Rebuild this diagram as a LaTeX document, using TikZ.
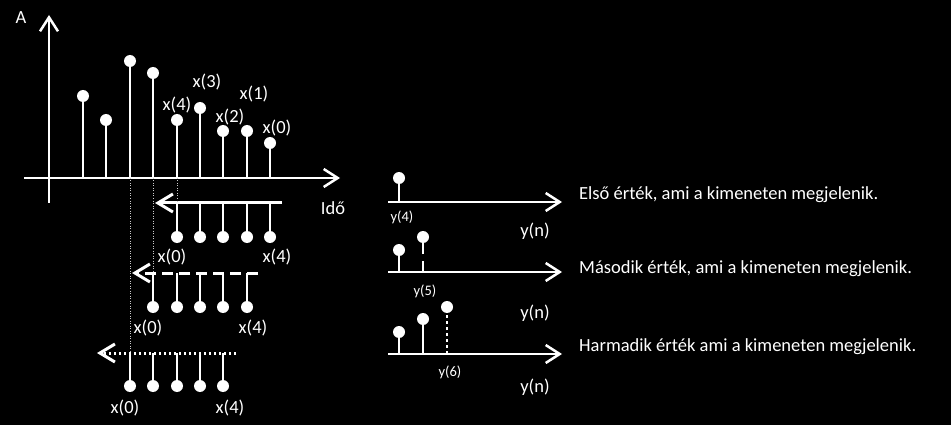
\documentclass[tikz,border=0pt]{standalone}
\usepackage{fontspec}
\setmainfont{Carlito}
\usetikzlibrary{arrows.meta}
\tikzset{
	dot/.style={circle,fill=white,inner sep=0pt,minimum size=12pt},
	lbl/.style={text=white,inner sep=0pt,font=\fontsize{18.5}{20}\selectfont},
	slbl/.style={text=white,inner sep=0pt,font=\fontsize{14.5}{16}\selectfont},
	axis/.style={draw=white,line width=2.5pt,-{Straight Barb[length=14pt,width=18pt]}},
	shiftline/.style={draw=white,line width=3pt,-{Straight Barb[length=15pt,width=18pt]}},
	stem/.style={draw=white,line width=2.5pt},
	guide/.style={draw=white!80!black,line width=0.8pt,dash pattern=on 1pt off 1.5pt},
}
\begin{document}
\begin{tikzpicture}[x=1pt,y=-1pt]
	\fill[black] (0,0) rectangle (951,425);
	\useasboundingbox (0,0) rectangle (951,425);
	%
	% input signal
	\coordinate (ya) at (49,203);
	\coordinate (yb) at (49,15);
	\coordinate (xa) at (24,178);
	\coordinate (xb) at (340,178);
	\draw[axis] (ya) -- (yb);
	\draw[axis] (xa) -- (xb);
	\node[lbl] (A)   at (21,18)  {A};
	\node[lbl] (ido) at (333,208) {Idő};
	\def\input {1/83/96, 2/106/120, 3/130/61, 4/153/73, 5/177/120, 6/200/108, 7/223/131, 8/247/131, 9/270/143}  % stems
	\foreach \n/\x/\y in \input
	{	\coordinate (b\n) at (\x,178);
		\node[dot] (s\n) at (\x,\y) {};
		\draw[stem] (b\n) -- (s\n);
	}
	\node[lbl] (m4) at (177,105) {x(4)};
	\node[lbl] (m3) at (207,82)  {x(3)};
	\node[lbl] (m2) at (230,117) {x(2)};
	\node[lbl] (m1) at (254,94)  {x(1)};
	\node[lbl] (m0) at (277,128) {x(0)};
	%
	% shifted copies
	\coordinate (la1) at (282,203);
	\coordinate (la2) at (155,203);
	\draw[shiftline] (la1) -- (la2);
	\foreach \n/\x in {0/177, 1/200, 2/223, 3/247, 4/270}
	{	\coordinate (ea\n) at (\x,203);
		\node[dot] (da\n) at (\x,237) {};
		\draw[stem] (ea\n) -- (da\n);
	}
	\node[lbl] (ta0) at (172,257) {x(0)};
	\node[lbl] (ta4) at (277,257) {x(4)};
	%
	\coordinate (lb1) at (258,273);
	\coordinate (lb2) at (132,273);
	\draw[shiftline,dash pattern=on 11pt off 6pt] (lb1) -- (lb2);
	\foreach \n/\x in {0/153, 1/177, 2/200, 3/223, 4/247}
	{	\coordinate (eb\n) at (\x,273);
		\node[dot] (db\n) at (\x,307) {};
		\draw[stem] (eb\n) -- (db\n);
	}
	\node[lbl] (tb0) at (148,328) {x(0)};
	\node[lbl] (tb4) at (253,328) {x(4)};
	%
	\coordinate (lc1) at (236,353);
	\coordinate (lc2) at (97,353);
	\draw[shiftline,dash pattern=on 2.5pt off 2.5pt] (lc1) -- (lc2);
	\foreach \n/\x in {0/130, 1/153, 2/177, 3/200, 4/223}
	{	\coordinate (ec\n) at (\x,353);
		\node[dot] (dc\n) at (\x,386) {};
		\draw[stem] (ec\n) -- (dc\n);
	}
	\node[lbl] (tc0) at (125,408) {x(0)};
	\node[lbl] (tc4) at (230,408) {x(4)};
	%
	\draw[guide] (b3) -- (ec0);
	\draw[guide] (b4) -- (eb0);
	\draw[guide] (b5) -- (ea0);
	%
	% output
	\foreach \r/\y in {1/202, 2/272, 3/354}
	{	\coordinate (oa\r) at (388,\y);
		\coordinate (ob\r) at (562,\y);
		\draw[axis] (oa\r) -- (ob\r);
	}
	\coordinate (u1) at (399,202);
	\node[dot] (v1) at (399,178) {};
	\draw[stem] (u1) -- (v1);
	%
	\coordinate (u2) at (399,272);
	\node[dot] (v2) at (399,250) {};
	\draw[stem] (u2) -- (v2);
	\coordinate (u3) at (423,272);
	\node[dot] (v3) at (423,237) {};
	\draw[stem,dash pattern=on 11pt off 7pt] (u3) -- (v3);
	%
	\coordinate (u4) at (399,354);
	\node[dot] (v4) at (399,332) {};
	\draw[stem] (u4) -- (v4);
	\coordinate (u5) at (423,354);
	\node[dot] (v5) at (423,319) {};
	\draw[stem] (u5) -- (v5);
	\coordinate (u6) at (447,354);
	\node[dot] (v6) at (447,307) {};
	\draw[stem,dash pattern=on 3pt off 3pt] (u6) -- (v6);
	%
	\node[slbl] (y4) at (402,217) {y(4)};
	\node[slbl] (y5) at (425,291) {y(5)};
	\node[slbl] (y6) at (450,372) {y(6)};
	\node[lbl] (yn1) at (535,231) {y(n)};
	\node[lbl] (yn2) at (535,313) {y(n)};
	\node[lbl] (yn3) at (535,387) {y(n)};
	\node[lbl,anchor=west] (t1) at (579,195) {Első érték, ami a kimeneten megjelenik.};
	\node[lbl,anchor=west] (t2) at (579,269) {Második érték, ami a kimeneten megjelenik.};
	\node[lbl,anchor=west] (t3) at (579,347) {Harmadik érték ami a kimeneten megjelenik.};
\end{tikzpicture}
\end{document}
